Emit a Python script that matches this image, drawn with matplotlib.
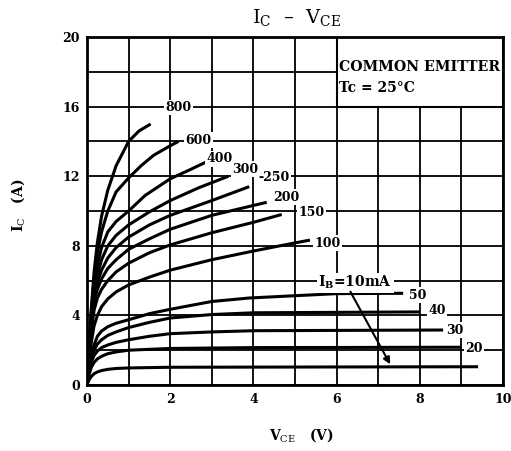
import matplotlib
matplotlib.use("Agg")
import matplotlib.pyplot as plt
from matplotlib.patches import Rectangle

plt.rcParams['font.family'] = ['DejaVu Serif']
plt.rcParams['mathtext.fontset'] = 'dejavuserif'

# base current labels and curve points (V, A)
ib_names = ['800', '600', '400', '300', '250', '200', '150', '100',
            '50', '40', '30', '20', '10']

v_800 = [0, 0.05, 0.1, 0.17, 0.25, 0.35, 0.5, 0.7, 1.0, 1.25, 1.53]
i_800 = [0, 2.2, 4.3, 6.5, 8.2, 9.7, 11.2, 12.6, 14.0, 14.6, 15.0]

v_600 = [0, 0.05, 0.1, 0.17, 0.25, 0.35, 0.5, 0.7, 1.0, 1.3, 1.6, 2.0, 2.2]
i_600 = [0, 2.1, 4.1, 6.1, 7.6, 8.8, 10.0, 11.1, 11.9, 12.6, 13.2, 13.75, 14.0]

v_400 = [0, 0.05, 0.1, 0.17, 0.25, 0.35, 0.5, 0.7, 1.0, 1.4, 2.0, 2.5, 2.85]
i_400 = [0, 2.0, 3.9, 5.7, 6.9, 7.9, 8.8, 9.4, 10.0, 10.9, 11.85, 12.4, 12.8]

v_300 = [0, 0.05, 0.1, 0.17, 0.25, 0.35, 0.5, 0.7, 1.0, 1.5, 2.0, 2.7, 3.4]
i_300 = [0, 1.9, 3.7, 5.4, 6.3, 7.2, 8.0, 8.6, 9.2, 9.95, 10.6, 11.35, 12.0]

v_250 = [0, 0.05, 0.1, 0.17, 0.25, 0.35, 0.5, 0.7, 1.0, 1.5, 2.0, 3.0, 3.9]
i_250 = [0, 1.8, 3.5, 5.1, 5.9, 6.6, 7.3, 7.9, 8.5, 9.2, 9.75, 10.6, 11.4]

v_200 = [0, 0.05, 0.1, 0.17, 0.25, 0.35, 0.5, 0.7, 1.0, 1.5, 2.0, 3.0, 4.32]
i_200 = [0, 1.7, 3.3, 4.8, 5.5, 6.1, 6.7, 7.2, 7.8, 8.4, 8.95, 9.75, 10.5]

v_150 = [0, 0.05, 0.1, 0.17, 0.25, 0.35, 0.5, 0.7, 1.0, 1.5, 2.0, 3.0, 4.0, 4.68]
i_150 = [0, 1.6, 3.0, 4.3, 5.0, 5.5, 6.0, 6.5, 7.0, 7.6, 8.05, 8.75, 9.35, 9.8]

v_100 = [0, 0.05, 0.1, 0.17, 0.25, 0.35, 0.5, 0.7, 1.0, 1.5, 2.0, 3.0, 4.0, 4.64, 5.36]
i_100 = [0, 1.3, 2.4, 3.4, 4.0, 4.5, 4.95, 5.35, 5.75, 6.2, 6.6, 7.2, 7.7, 8.0, 8.33]

v_50 = [0, 0.05, 0.1, 0.17, 0.25, 0.35, 0.5, 0.7, 1.0, 1.5, 2.0, 3.0, 3.9, 6.0, 7.6]
i_50 = [0, 1.0, 1.7, 2.3, 2.8, 3.1, 3.35, 3.55, 3.75, 4.1, 4.35, 4.8, 5.0, 5.25, 5.27]

v_40 = [0, 0.05, 0.1, 0.17, 0.25, 0.35, 0.5, 0.7, 1.0, 1.5, 2.0, 3.0, 4.0, 8.0]
i_40 = [0, 0.9, 1.5, 2.0, 2.35, 2.6, 2.85, 3.05, 3.3, 3.6, 3.85, 4.05, 4.15, 4.2]

v_30 = [0, 0.05, 0.1, 0.17, 0.25, 0.35, 0.5, 0.7, 1.0, 1.5, 2.0, 3.0, 4.0, 8.56]
i_30 = [0, 0.8, 1.3, 1.7, 1.95, 2.15, 2.3, 2.45, 2.6, 2.8, 2.95, 3.05, 3.12, 3.16]

v_20 = [0, 0.05, 0.1, 0.17, 0.25, 0.35, 0.5, 0.7, 1.0, 2.0, 4.0, 9.0]
i_20 = [0, 0.6, 1.0, 1.3, 1.5, 1.65, 1.8, 1.9, 2.0, 2.1, 2.15, 2.17]

v_10 = [0, 0.05, 0.1, 0.17, 0.25, 0.35, 0.5, 0.7, 1.0, 2.0, 9.4]
i_10 = [0, 0.3, 0.48, 0.65, 0.75, 0.83, 0.9, 0.95, 0.98, 1.02, 1.05]

curves = [(v_800, i_800), (v_600, i_600), (v_400, i_400), (v_300, i_300),
          (v_250, i_250), (v_200, i_200), (v_150, i_150), (v_100, i_100),
          (v_50, i_50), (v_40, i_40), (v_30, i_30), (v_20, i_20), (v_10, i_10)]

x_ticks = [0, 2, 4, 6, 8, 10]
y_ticks = [0, 4, 8, 12, 16, 20]

fig = plt.figure(figsize=(5.11, 4.51), dpi=100)
ax = fig.add_axes([87/511, 1-385/451, 416/511, 348/451])

ax.set_xlim(0, 10)
ax.set_ylim(0, 20)
ax.set_xticks(x_ticks)
ax.set_yticks(y_ticks)
ax.set_xticks(range(0, 11), minor=True)
ax.set_yticks(range(0, 21, 2), minor=True)
ax.grid(which='both', color='black', lw=1.3, zorder=1)
ax.set_axisbelow(True)
ax.tick_params(which='both', length=0)
ax.tick_params(axis='x', pad=6, labelsize=9)
ax.tick_params(axis='y', pad=5, labelsize=9)
for lab in ax.get_xticklabels() + ax.get_yticklabels():
    lab.set_fontweight('bold')
for s in ax.spines.values():
    s.set_linewidth(2)

# box for the test conditions
ax.add_patch(Rectangle((6, 16), 4, 4, facecolor='white', edgecolor='black',
                       lw=1.5, zorder=2))
ax.text(6.05, 18.3, 'COMMON EMITTER', fontsize=10.2, fontweight='bold',
        va='center', ha='left', zorder=5)
ax.text(6.05, 17.05, 'Tc = 25°C', fontsize=10, fontweight='bold',
        va='center', ha='left', zorder=5)

for v, i in curves:
    ax.plot(v, i, color='black', lw=2.2, solid_capstyle='butt', zorder=3)

# curve labels
label_pos = [(2.2, 15.95), (2.68, 14.08), (3.18, 13.0), (3.8, 12.4),
             (4.5, 11.93), (4.78, 10.8), (5.4, 9.9), (5.78, 8.14),
             (7.94, 5.17), (8.42, 4.31), (8.84, 3.16), (9.3, 2.1)]
box = dict(facecolor='white', edgecolor='none', pad=1.0)
for name, (x, y) in zip(ib_names[:-1], label_pos):
    txt = '-' + name if name == '250' else name
    ax.text(x, y, txt, fontsize=9, fontweight='bold', ha='center',
            va='center', bbox=box, zorder=4)
ax.text(6.45, 5.88, r'I$_{\mathbf{B}}$=10mA', fontsize=10, fontweight='bold',
        ha='center', va='center', bbox=box, zorder=4)
ax.annotate('', xy=(7.32, 1.05), xytext=(6.3, 5.5),
            arrowprops=dict(arrowstyle='-|>', color='black', lw=1.5,
                            mutation_scale=10), zorder=5)

fig.text(0.581, 0.962, r'I$_\mathrm{C}$  –  V$_\mathrm{CE}$', fontsize=14,
         ha='center', va='center')
fig.text(0.59, 0.035, r'V$_\mathrm{CE}$   (V)', fontsize=10,
         ha='center', va='center', fontweight='bold')
fig.text(0.035, 0.545, r'I$_\mathrm{C}$   (A)', fontsize=10, rotation=90,
         ha='center', va='center', fontweight='bold')

fig.savefig('out.png', dpi=100)
